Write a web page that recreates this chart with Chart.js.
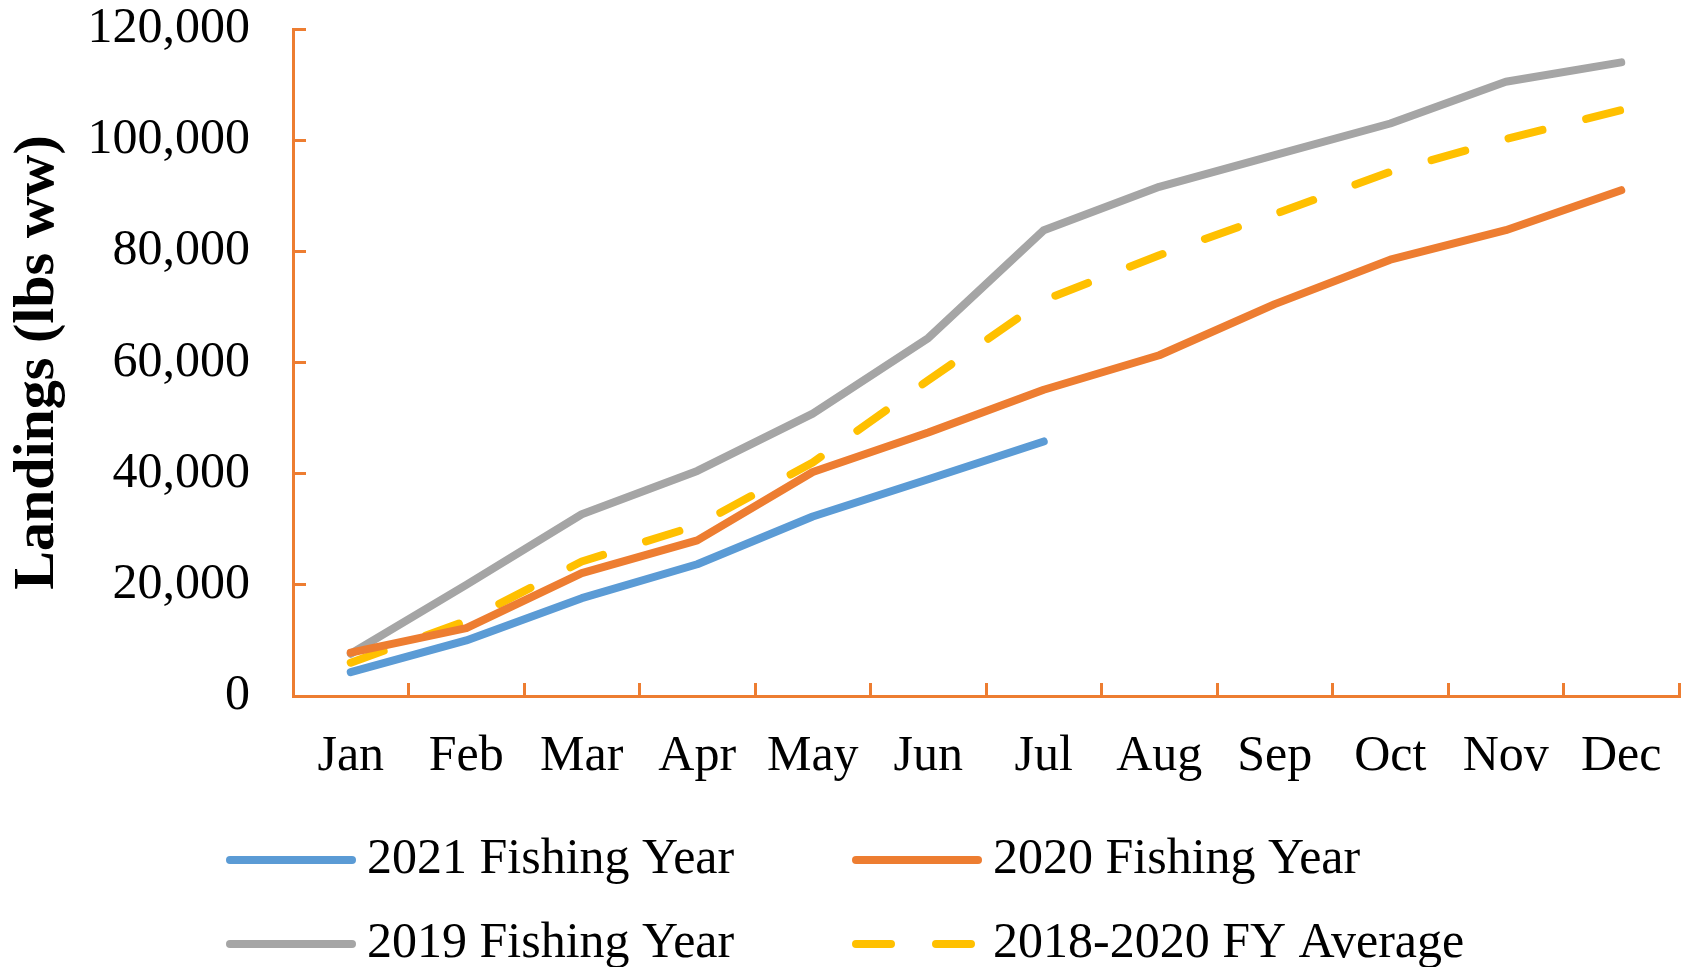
<!DOCTYPE html>
<html>
<head>
<meta charset="utf-8">
<title>Landings by Fishing Year</title>
<script src="https://cdn.jsdelivr.net/npm/chart.js"></script>
<style>
    html, body { margin: 0; padding: 0; background: #fff; }
    #chart { display: block; }
</style>
</head>
<body>
<canvas id="chart" width="1688" height="967"></canvas>
<script>
// cumulative landings (lbs ww) by month
const months = ["Jan", "Feb", "Mar", "Apr", "May", "Jun", "Jul", "Aug", "Sep", "Oct", "Nov", "Dec"];

const fy2021 = [4300, 10000, 17600, 23700, 32300, 39000, 45800];
const fy2020 = [7800, 12200, 22100, 28000, 40300, 47400, 55100, 61300, 70500, 78500, 83800, 91000];
const fy2019 = [7600, 20000, 32700, 40500, 50800, 64400, 83800, 91600, 97300, 103000, 110500, 114000];
const fyAverage = [6000, 13500, 24200, 30700, 42000, 56800, 71200, 79300, 86700, 94300, 100200, 105400];

const seriesNames = ["2021 Fishing Year", "2020 Fishing Year", "2019 Fishing Year", "2018-2020 FY Average"];
const yTicks = [0, 20000, 40000, 60000, 80000, 100000, 120000];

const axisOrange = "#ED7D31";
const serif = "'Liberation Serif', 'Times New Roman', serif";

Chart.defaults.font.family = serif;
Chart.defaults.color = "#000";

function lineSet(label, data, color, dash) {
    return {
        label,
        data,
        borderColor: color,
        backgroundColor: color,
        borderWidth: 8,
        borderDash: dash || [],
        borderCapStyle: "round",
        borderJoinStyle: "round",
        pointRadius: 0,
        pointHoverRadius: 0,
        tension: 0,
        fill: false
    };
}

// legend laid out as a 2 x 2 grid under the axis
const gridLegend = {
    id: "gridLegend",
    afterDraw(chart) {
        const ctx = chart.ctx;
        const cols = [226, 852];
        const rows = [860, 944];
        const sample = 130;

        chart.data.datasets.forEach((ds, i) => {
            const x = cols[i % 2];
            const y = rows[Math.floor(i / 2)];

            ctx.save();
            ctx.strokeStyle = ds.borderColor;
            ctx.lineWidth = ds.borderWidth;
            ctx.lineCap = "round";
            ctx.setLineDash(ds.borderDash);
            ctx.beginPath();
            ctx.moveTo(x + 4, y);
            ctx.lineTo(x + sample - 4, y);
            ctx.stroke();
            ctx.restore();

            ctx.save();
            ctx.fillStyle = "#000";
            ctx.font = "50px " + serif;
            ctx.textBaseline = "middle";
            ctx.textAlign = "left";
            ctx.fillText(ds.label, x + sample + 11, y);
            ctx.restore();
        });
    }
};

new Chart(document.getElementById("chart"), {
    type: "line",
    data: {
        labels: months,
        datasets: [
            lineSet(seriesNames[0], fy2021, "#5B9BD5"),
            lineSet(seriesNames[1], fy2020, "#ED7D31"),
            lineSet(seriesNames[2], fy2019, "#A5A5A5"),
            lineSet(seriesNames[3], fyAverage, "#FFC000", [35, 45])
        ]
    },
    options: {
        responsive: false,
        devicePixelRatio: 1,
        animation: false,
        layout: { padding: { top: 29, right: 9, bottom: 0, left: 0 } },
        plugins: {
            legend: { display: false },
            tooltip: { enabled: false }
        },
        scales: {
            x: {
                offset: true,
                grid: {
                    offset: true,
                    drawOnChartArea: false,
                    color: axisOrange,
                    lineWidth: 3,
                    tickLength: -13
                },
                border: { color: axisOrange, width: 3 },
                ticks: {
                    font: { size: 50 },
                    padding: 44,
                    maxRotation: 0,
                    autoSkip: false
                },
                afterFit(scale) {
                    scale.height = 271;
                    scale.paddingLeft = 0;
                    scale.paddingRight = 0;
                }
            },
            y: {
                min: 0,
                max: 120000,
                grid: {
                    drawOnChartArea: false,
                    color: axisOrange,
                    lineWidth: 3,
                    tickLength: -13
                },
                border: { color: axisOrange, width: 3 },
                afterBuildTicks(scale) {
                    scale.ticks = yTicks.map(v => ({ value: v }));
                },
                ticks: {
                    font: { size: 50 },
                    padding: 56,
                    callback: v => Number(v).toLocaleString("en-US")
                },
                title: {
                    display: true,
                    text: "Landings (lbs ww)",
                    font: { size: 58, weight: "bold" },
                    padding: { top: 3, bottom: 0 }
                },
                afterFit(scale) {
                    scale.width = 293;
                    // tick padding would otherwise push the plot top down
                    scale.paddingTop = 0;
                    scale.paddingBottom = 0;
                }
            }
        }
    },
    plugins: [gridLegend]
});
</script>
</body>
</html>
